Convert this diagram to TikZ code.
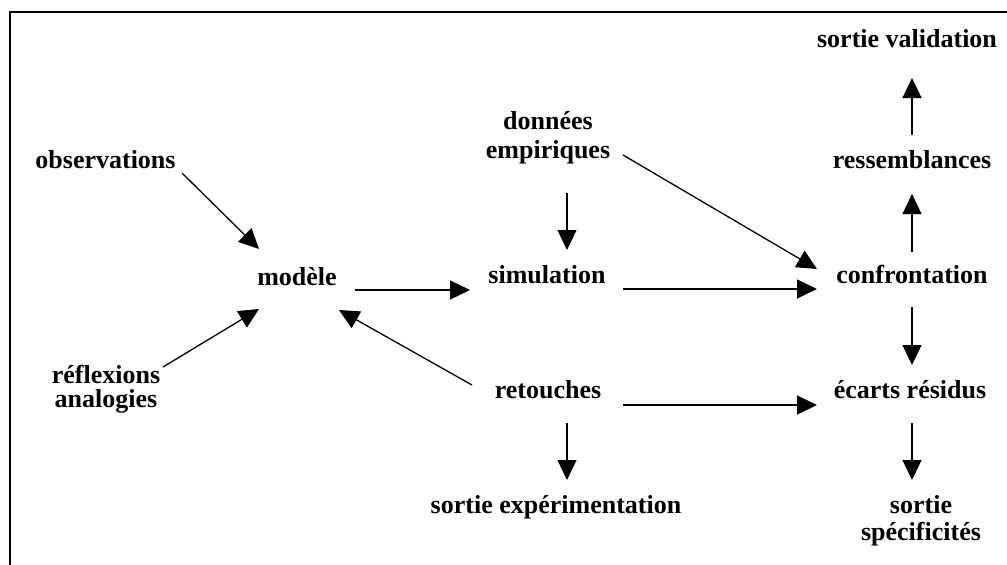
\documentclass[tikz,border=0pt]{standalone}
\usepackage{fontspec}
\setmainfont{Liberation Serif}
\usetikzlibrary{arrows.meta}
\tikzset{
  lbl/.style={inner sep=0pt, anchor=base, align=center, font=\bfseries\fontsize{26}{25}\selectfont},
  arr/.style={line width=1.3pt, -{Triangle[length=20pt,width=19pt]}},
  frame/.style={line width=2pt}
}
\begin{document}
\begin{tikzpicture}[x=1pt,y=-1pt]
\useasboundingbox (0,0) rectangle (1007,565);
\draw[frame] (9.5,565) -- (9.5,12) -- (1007,12);
% nodes (placed at baseline of last line, horizontal centre)
\node[lbl] (val) at (907,47) {sortie validation};
\node[lbl] (obs) at (105.5,168) {observations};
\node[lbl, font=\bfseries\fontsize{26}{29}\selectfont] (don) at (548,158) {données\\empiriques};
\node[lbl] (res) at (912,168) {ressemblances};
\node[lbl] (mod) at (297,285) {modèle};
\node[lbl] (sim) at (547,283) {simulation};
\node[lbl] (con) at (912,283) {confrontation};
\node[lbl, font=\bfseries\fontsize{26}{24}\selectfont] (ref) at (106,407) {réflexions\\analogies};
\node[lbl] (ret) at (548,398) {retouches};
\node[lbl] (eca) at (910,398) {écarts résidus};
\node[lbl] (exp) at (556,513) {sortie expérimentation};
\node[lbl, font=\bfseries\fontsize{26}{27}\selectfont] (spe) at (921,540) {sortie\\spécificités};
% connectors
\draw[arr] ([shift={(76.5,5)}]obs.base) -- ([shift={(-38,-36)}]mod.base);
\draw[arr] ([shift={(57,-40)}]ref.base) -- ([shift={(-38,24)}]mod.base);
\draw[arr] ([shift={(-76,-13)}]ret.base) -- ([shift={(42,25)}]mod.base);
\draw[arr] ([shift={(58,5)}]mod.base) -- ([shift={(-77,7)}]sim.base);
\draw[arr] ([shift={(19,35)}]don.base) -- ([shift={(20,-33)}]sim.base);
\draw[arr] ([shift={(75,-3)}]don.base) -- ([shift={(-95,-14)}]con.base);
\draw[arr] ([shift={(76,6)}]sim.base) -- ([shift={(-95,6)}]con.base);
\draw[arr] ([shift={(0,-31)}]con.base) -- ([shift={(0,26)}]res.base);
\draw[arr] ([shift={(0,-33)}]res.base) -- ([shift={(5,31)}]val.base);
\draw[arr] ([shift={(0,24)}]con.base) -- ([shift={(2,-33)}]eca.base);
\draw[arr] ([shift={(75,7)}]ret.base) -- ([shift={(-93,7)}]eca.base);
\draw[arr] ([shift={(19,25)}]ret.base) -- ([shift={(11,-33)}]exp.base);
\draw[arr] ([shift={(2,25)}]eca.base) -- ([shift={(-9,-60)}]spe.base);
\end{tikzpicture}
\end{document}
